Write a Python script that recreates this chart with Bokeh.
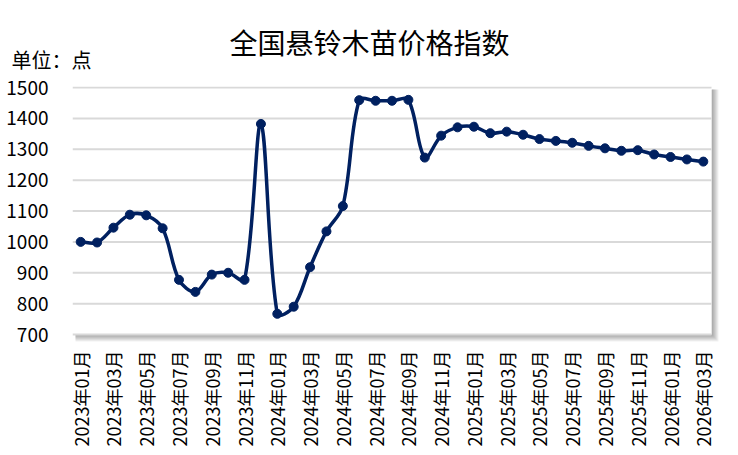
import numpy as np
from bokeh.plotting import figure
from bokeh.models import FixedTicker, Label, Range1d, ColumnDataSource
from bokeh.embed import file_html
from bokeh.resources import INLINE

months = ["2023年01月", "2023年02月", "2023年03月", "2023年04月", "2023年05月", "2023年06月",
          "2023年07月", "2023年08月", "2023年09月", "2023年10月", "2023年11月", "2023年12月",
          "2024年01月", "2024年02月", "2024年03月", "2024年04月", "2024年05月", "2024年06月",
          "2024年07月", "2024年08月", "2024年09月", "2024年10月", "2024年11月", "2024年12月",
          "2025年01月", "2025年02月", "2025年03月", "2025年04月", "2025年05月", "2025年06月",
          "2025年07月", "2025年08月", "2025年09月", "2025年10月", "2025年11月", "2025年12月",
          "2026年01月", "2026年02月", "2026年03月"]
values = [1000, 998, 1046, 1088, 1086, 1044, 877, 838, 894, 900, 877, 1382,
          767, 790, 918, 1034, 1116, 1459, 1457, 1457, 1460, 1273, 1344, 1371,
          1373, 1352, 1357, 1347, 1333, 1327, 1321, 1311, 1303, 1295, 1297, 1283,
          1275, 1267, 1260]
y_ticks = [700, 800, 900, 1000, 1100, 1200, 1300, 1400, 1500]
title_text = "全国悬铃木苗价格指数"
unit_text = "单位：点"

FONT = "Noto Sans CJK SC"
NAVY = "#002060"

# ---------------- layout constants (pixels) ----------------
W, H = 738, 455
ML = 72                     # left border (y-axis labels)
DATA_W, DATA_H = 639, 247   # plot area
SH = 8                      # shadow room right / bottom
MT = 86
FW, FH = DATA_W + SH, DATA_H + SH + 1
MR = W - ML - FW
MB = H - MT - FH
DATA_TOP = MT + 1           # page y of the top of the plot area

x0r, x1r = -0.5, len(values) - 0.5
y0r, y1r = y_ticks[0], y_ticks[-1]
px_x = (x1r - x0r) / DATA_W
px_y = (y1r - y0r) / DATA_H

# ---------------- smoothed curve (Excel-like bezier) ----------------
x = np.arange(len(values), dtype=float)
y = np.array(values, dtype=float)
sxp, syp = x / px_x, y / px_y          # pixel space for distances
n = len(x)
segs = {k: [] for k in ("x0", "y0", "x1", "y1", "cx0", "cy0", "cx1", "cy1")}
for i in range(n - 1):
    a = max(i - 1, 0)
    d = min(i + 2, n - 1)
    d01 = np.hypot(sxp[i] - sxp[a], syp[i] - syp[a])
    d12 = np.hypot(sxp[i + 1] - sxp[i], syp[i + 1] - syp[i])
    d23 = np.hypot(sxp[d] - sxp[i + 1], syp[d] - syp[i + 1])
    f1 = d12 / (d01 + d12) / 3.0
    f2 = d12 / (d12 + d23) / 3.0
    segs["x0"].append(x[i]); segs["y0"].append(y[i])
    segs["x1"].append(x[i + 1]); segs["y1"].append(y[i + 1])
    segs["cx0"].append(x[i] + (x[i + 1] - x[a]) * f1)
    segs["cy0"].append(y[i] + (y[i + 1] - y[a]) * f1)
    segs["cx1"].append(x[i + 1] - (x[d] - x[i]) * f2)
    segs["cy1"].append(y[i + 1] - (y[d] - y[i]) * f2)

# ---------------- chart ----------------
p = figure(width=W, height=H, output_backend="svg", toolbar_location=None,
           x_range=Range1d(x0r, x1r + SH * px_x),
           y_range=Range1d(y0r - SH * px_y, y1r + 1 * px_y),
           min_border_left=ML, min_border_right=MR, min_border_top=MT, min_border_bottom=MB)
p.outline_line_color = None
p.background_fill_color = "white"
p.border_fill_color = "white"
p.xgrid.visible = False
p.ygrid.visible = False

# drop shadow of the plot area
for k in range(1, SH):
    p.quad(left=x1r, right=x1r + k * px_x, top=y1r - 2 * px_y, bottom=y0r - k * px_y,
           fill_color="black", fill_alpha=0.055, line_color=None)
    p.quad(left=x0r + 3 * px_x, right=x1r, top=y0r, bottom=y0r - k * px_y,
           fill_color="black", fill_alpha=0.055, line_color=None)
# plot area and horizontal gridlines
p.quad(left=x0r, right=x1r, top=y1r, bottom=y0r, fill_color="white", line_color=None)
p.segment(x0=[x0r] * len(y_ticks), x1=[x1r] * len(y_ticks), y0=y_ticks, y1=y_ticks,
          line_color="#d9d9d9", line_width=2)

src = ColumnDataSource(segs)
p.bezier("x0", "y0", "x1", "y1", "cx0", "cy0", "cx1", "cy1", source=src,
         line_color=NAVY, line_width=3.5)
p.scatter(x, y, size=9, color=NAVY)

p.yaxis.ticker = FixedTicker(ticks=y_ticks)
p.xaxis.ticker = FixedTicker(ticks=list(range(0, len(months), 2)))
p.xaxis.major_label_overrides = {i: months[i] for i in range(0, len(months), 2)}
p.xaxis.major_label_orientation = np.pi / 2
for ax in (p.xaxis, p.yaxis):
    ax.axis_line_color = None
    ax.major_tick_line_color = None
    ax.minor_tick_line_color = None
    ax.major_tick_out = 0
    ax.major_tick_in = 0
    ax.minor_tick_out = 0
    ax.minor_tick_in = 0
    ax.major_label_text_font = FONT
    ax.major_label_text_color = "black"
p.yaxis.major_label_text_font_size = "19px"
p.xaxis.major_label_text_font_size = "18px"
p.yaxis.major_label_standoff = 24
p.xaxis.major_label_standoff = 8

# ---------------- title and unit, in the (unclipped) top panel ----------------
def px_to_x(page_x):
    return x0r + (page_x - ML) * px_x

def px_to_y(page_y):
    return y1r + (DATA_TOP - page_y) * px_y

p.add_layout(Label(x=px_to_x(369), y=px_to_y(41), text=title_text, text_font=FONT,
                   text_font_size="28px", text_align="center", text_baseline="middle",
                   text_color="black"), "above")
p.add_layout(Label(x=px_to_x(11), y=px_to_y(59), text=unit_text, text_font=FONT,
                   text_font_size="20px", text_align="left", text_baseline="middle",
                   text_color="black"), "above")

open("out.html", "w").write(file_html(p, INLINE))
